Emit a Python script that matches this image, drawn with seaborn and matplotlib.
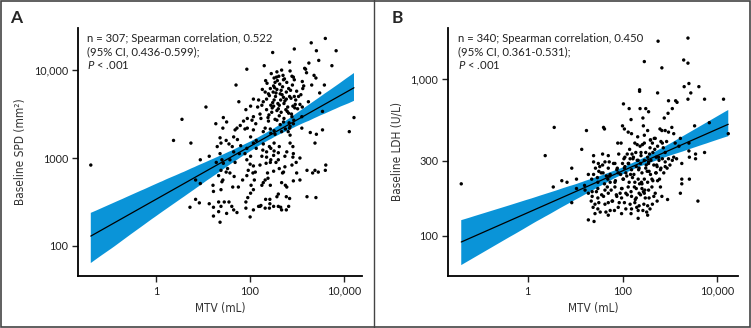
import numpy as np
import pandas as pd
import matplotlib
matplotlib.use('Agg')
import matplotlib.pyplot as plt
import seaborn as sns
from matplotlib.lines import Line2D
from matplotlib.patches import Rectangle

# ---- data (log10 values) ----
# Panel A: MTV (mL) vs baseline SPD (mm2)
log_mtv_a = [
    3.30, 3.60, 2.94, 3.41, 3.83, 2.48, 1.93, 3.25, 3.46, 2.84,
    3.16, 3.18, 3.74, 2.30, 2.67, 2.57, 2.89, 2.92, 2.94, 3.36,
    3.40, 3.20, 3.11, 2.51, 2.61, 2.71, 2.53, 3.31, 3.12, 3.58,
    1.70, 2.50, 2.43, 2.57, 2.66, 2.32, 2.86, 2.77, 2.64, 2.39,
    2.54, 2.71, 2.84, 2.51, 2.65, 2.77, 2.94, 2.35, 2.28, 2.50,
    2.62, 2.72, 2.91, 3.06, 3.01, 2.18, 2.07, 2.16, 2.25, 1.76,
    1.91, 2.01, 2.35, 2.46, 2.57, 2.82, 3.11, 3.54, 2.89, 3.10,
    1.06, 0.55, 2.07, 1.94, 2.04, 1.86, 2.12, 2.23, 2.39, 2.57,
    2.71, 2.85, 2.92, 3.10, 3.54, 4.21, 1.79, 1.72, 1.94, 2.07,
    2.32, 2.43, 2.44, 2.53, 2.67, 2.85, 2.75, 2.84, 3.28, 4.11,
    3.41, 1.43, 1.50, 1.27, 1.42, 1.68, 1.89, 2.28, 2.51, 1.36,
    1.49, 1.65, 1.73, 2.01, 2.13, 2.07, 2.28, 2.41, 2.51, 2.62,
    2.85, 2.91, 3.38, 1.38, 1.30, 1.55, 1.62, 1.80, 1.93, 1.65,
    1.77, 1.89, 2.13, 2.27, 2.35, 2.44, 2.51, 2.60, 2.78, 2.92,
    1.13, 0.94, 1.36, 1.40, 1.28, 1.43, 1.57, 1.68, 1.93, 2.01,
    2.25, 2.35, 2.44, 2.50, 2.60, 2.74, 2.91, 3.06, 3.38, 3.61,
    2.00, 2.21, 2.34, 2.43, 2.55, 2.89, 2.98, 1.96, 2.07, 2.11,
    2.62, 2.74, 2.99, 3.21, 3.45, 3.60, 1.38, 1.52, 1.49, 1.57,
    1.33, 1.66, 1.93, 1.84, 2.09, 2.06, 2.37, 2.50, 2.69, 2.71,
    2.38, 2.28, 2.32, 2.43, 2.25, 2.75, 2.67, 2.78, 2.92, 1.42,
    1.40, 0.94, 0.84, 1.21, 1.38, 1.75, 2.02, 1.22, 1.63, 2.07,
    2.01, 1.95, 2.33, 2.57, 2.42, 2.77, 2.50, 2.60, 2.65, 0.92,
    1.13, 1.33, 1.45, 1.55, 1.61, 1.38, 1.50, 1.65, 1.91, 2.21,
    2.32, 2.82, 2.60, 2.84, 3.06, 3.33, 0.72, 0.84, 1.22, 1.33,
    1.72, 1.91, 2.07, 2.23, 2.42, 2.77, 3.21, 1.22, 2.00, 2.18,
    1.36, 2.41, 2.67, -1.39, 0.37, 0.74, 3.40,
    # overlapping points in the dense upper cluster
    2.36, 2.41, 2.45, 2.48, 2.52, 2.55, 2.58, 2.60, 2.63, 2.68,
    2.70, 2.74, 2.78, 2.80, 2.82, 2.87, 2.90, 2.96, 2.99, 3.03,
    2.40, 2.47, 2.53, 2.59, 2.66, 2.72, 2.76, 2.83, 2.88, 2.93,
    2.26, 2.33, 2.44, 2.56, 2.62, 2.69, 2.79, 2.85, 2.97, 3.08,
    2.21, 2.38, 2.49, 2.64, 2.73, 2.81, 2.95, 3.14, 3.24, 3.48,
]
log_spd_a = [
    4.31, 4.36, 4.24, 4.22, 4.22, 4.20, 4.01, 4.08, 4.11, 4.09,
    4.02, 4.01, 4.05, 4.05, 4.00, 3.98, 3.93, 3.92, 3.89, 3.94,
    3.91, 3.97, 3.87, 3.91, 3.93, 3.89, 3.86, 3.83, 3.79, 3.83,
    3.83, 3.82, 3.79, 3.78, 3.77, 3.75, 3.77, 3.75, 3.73, 3.73,
    3.70, 3.69, 3.70, 3.66, 3.66, 3.67, 3.70, 3.67, 3.64, 3.59,
    3.60, 3.62, 3.59, 3.61, 3.56, 3.66, 3.67, 3.58, 3.60, 3.64,
    3.55, 3.59, 3.55, 3.52, 3.54, 3.51, 3.58, 3.53, 3.47, 3.47,
    3.58, 3.44, 3.47, 3.45, 3.43, 3.42, 3.39, 3.45, 3.42, 3.43,
    3.41, 3.36, 3.39, 3.34, 3.32, 3.46, 3.37, 3.34, 3.34, 3.32,
    3.34, 3.33, 3.28, 3.27, 3.30, 3.26, 3.33, 3.34, 3.29, 3.30,
    3.27, 3.46, 3.41, 3.39, 3.34, 3.32, 3.33, 3.30, 3.31, 3.23,
    3.20, 3.24, 3.21, 3.24, 3.20, 3.17, 3.16, 3.13, 3.17, 3.13,
    3.17, 3.13, 3.17, 3.17, 3.13, 3.16, 3.13, 3.14, 3.11, 3.07,
    3.05, 3.05, 3.11, 3.09, 3.07, 3.11, 3.08, 3.06, 3.07, 3.05,
    3.02, 2.98, 3.05, 2.98, 2.95, 2.94, 2.98, 2.95, 2.98, 3.02,
    3.02, 3.01, 2.98, 3.03, 2.98, 3.02, 3.01, 3.00, 2.86, 2.92,
    2.93, 2.92, 2.94, 2.95, 2.95, 2.92, 2.95, 2.86, 2.91, 2.84,
    2.88, 2.90, 2.83, 2.86, 2.84, 2.86, 2.86, 2.88, 2.84, 2.83,
    2.80, 2.79, 2.80, 2.75, 2.75, 2.83, 2.83, 2.85, 2.83, 2.84,
    2.77, 2.72, 2.75, 2.69, 2.69, 2.69, 2.72, 2.67, 2.74, 2.75,
    2.73, 2.71, 2.75, 2.69, 2.64, 2.67, 2.69, 2.62, 2.67, 2.64,
    2.60, 2.55, 2.53, 2.56, 2.53, 2.56, 2.45, 2.45, 2.44, 2.49,
    2.48, 2.50, 2.50, 2.50, 2.45, 2.45, 2.37, 2.41, 2.50, 2.45,
    2.43, 2.45, 2.59, 2.54, 2.75, 2.83, 2.44, 2.53, 2.44, 2.39,
    2.38, 2.43, 2.41, 2.46, 2.48, 2.41, 2.56, 2.34, 2.33, 2.45,
    2.27, 2.43, 2.41, 2.92, 3.20, 3.17, 2.55,
    3.85, 3.71, 3.96, 3.63, 3.80, 3.74, 3.88, 3.56, 3.84, 3.72,
    3.94, 3.65, 3.86, 3.58, 3.79, 3.68, 3.83, 3.61, 3.76, 3.70,
    3.49, 3.57, 3.44, 3.62, 3.52, 3.45, 3.55, 3.40, 3.50, 3.43,
    3.78, 3.88, 3.60, 3.92, 3.48, 3.81, 3.53, 3.99, 3.66, 3.72,
    3.50, 3.46, 3.75, 3.38, 3.90, 3.30, 3.57, 3.82, 3.64, 3.74,
]

# Panel B: MTV (mL) vs baseline LDH (U/L)
log_mtv_b = [
    2.75, 3.38, 2.46, 3.29, 3.38, 2.83, 3.40, 3.30, 3.61, 2.36,
    2.36, 2.74, 3.44, 3.38, 3.73, 4.13, 2.97, 3.12, 3.15, 2.02,
    2.14, 2.37, 2.49, 2.55, 3.05, 2.96, 2.18, 2.43, 2.88, 3.83,
    3.52, 0.56, 1.24, 1.60, 1.62, 2.00, 2.04, 2.12, 2.19, 2.44,
    2.53, 2.79, 2.83, 2.90, 2.97, 3.04, 3.08, 4.23, 2.32, 2.46,
    2.59, 2.69, 2.81, 2.84, 3.22, 1.90, 1.97, 2.26, 2.31, 2.37,
    2.46, 2.58, 2.63, 2.74, 3.11, 3.19, 3.40, 1.14, 2.10, 2.28,
    2.39, 2.49, 2.53, 2.64, 2.71, 2.90, 2.97, 3.08, 3.40, 3.54,
    3.73, 0.37, 1.39, 1.58, 1.70, 2.05, 2.16, 2.23, 2.33, 2.46,
    2.60, 2.77, 2.84, 2.90, 3.05, 3.14, 3.41, 1.39, 1.49, 1.63,
    1.84, 2.00, 2.12, 2.38, 2.55, 2.66, 2.73, 2.90, 3.00, 3.25,
    3.54, 0.93, 1.43, 1.70, 1.88, 2.04, 2.19, 2.35, 2.49, 2.56,
    2.80, 2.94, 1.28, 1.39, 1.50, 1.59, 1.74, 1.91, 2.07, 2.24,
    2.41, 2.59, 2.70, 2.87, 0.72, 0.83, 1.03, 1.20, 1.35, 1.48,
    1.62, 1.69, 1.74, 1.84, 2.02, 2.14, 2.26, 2.33, 2.41, 2.53,
    2.62, 2.74, 3.25, 0.54, -1.40, 3.25, 3.41, 1.03, 1.21, 1.36,
    1.48, 1.63, 1.84, 1.98, 2.12, 2.18, 2.29, 2.35, 2.41, 2.46,
    2.55, 2.69, 2.80, 3.22, 1.28, 1.36, 1.48, 1.56, 1.70, 1.88,
    1.98, 2.07, 2.19, 2.29, 2.38, 2.48, 2.56, 2.66, 2.83, 2.95,
    3.59, 0.93, 1.34, 1.42, 1.50, 1.70, 1.79, 1.93, 2.04, 2.16,
    2.26, 2.35, 2.45, 2.53, 2.63, 2.73, 1.38, 1.48, 1.53, 1.65,
    1.74, 1.83, 1.91, 2.07, 2.19, 2.30, 2.33, 2.43, 2.51, 2.58,
    1.42, 1.70, 1.98, 2.18, 2.53, 2.33, 1.28, 1.40,
    # overlapping points in the dense cluster
    1.45, 1.52, 1.60, 1.66, 1.72, 1.78, 1.85, 1.92, 1.99, 2.05,
    2.10, 2.15, 2.21, 2.27, 2.31, 2.36, 2.42, 2.47, 2.52, 2.57,
    2.62, 2.67, 2.72, 2.78, 2.86, 1.55, 1.68, 1.81, 1.95, 2.09,
    2.22, 2.34, 2.46, 2.59, 2.71, 1.47, 1.63, 1.76, 1.89, 2.01,
    2.13, 2.25, 2.39, 2.50, 2.64, 2.76, 1.58, 1.73, 1.87, 2.03,
    2.17, 2.29, 2.44, 2.55, 2.68, 2.81, 2.93, 1.96, 2.20, 2.40,
]
log_ldh_b = [
    3.24, 3.26, 3.11, 3.12, 3.10, 3.07, 2.97, 2.95, 2.95, 2.93,
    2.92, 2.91, 2.91, 2.87, 2.87, 2.87, 2.86, 2.86, 2.85, 2.84,
    2.81, 2.81, 2.81, 2.79, 2.81, 2.78, 2.74, 2.75, 2.75, 2.72,
    2.70, 2.69, 2.67, 2.69, 2.68, 2.70, 2.68, 2.66, 2.65, 2.70,
    2.67, 2.68, 2.67, 2.67, 2.66, 2.69, 2.65, 2.65, 2.63, 2.64,
    2.61, 2.62, 2.60, 2.59, 2.62, 2.59, 2.59, 2.59, 2.58, 2.57,
    2.59, 2.56, 2.59, 2.57, 2.59, 2.57, 2.59, 2.55, 2.52, 2.53,
    2.51, 2.53, 2.50, 2.53, 2.50, 2.53, 2.49, 2.50, 2.54, 2.52,
    2.53, 2.51, 2.51, 2.52, 2.51, 2.50, 2.49, 2.50, 2.48, 2.48,
    2.48, 2.48, 2.49, 2.47, 2.48, 2.49, 2.50, 2.47, 2.46, 2.47,
    2.46, 2.46, 2.46, 2.46, 2.46, 2.45, 2.44, 2.44, 2.45, 2.46,
    2.49, 2.43, 2.43, 2.43, 2.42, 2.43, 2.42, 2.43, 2.43, 2.41,
    2.42, 2.43, 2.39, 2.39, 2.41, 2.40, 2.39, 2.40, 2.40, 2.39,
    2.40, 2.39, 2.40, 2.40, 2.35, 2.34, 2.36, 2.32, 2.36, 2.34,
    2.33, 2.36, 2.34, 2.34, 2.36, 2.34, 2.34, 2.36, 2.33, 2.34,
    2.36, 2.35, 2.36, 2.31, 2.33, 2.33, 2.36, 2.30, 2.29, 2.28,
    2.30, 2.29, 2.31, 2.30, 2.31, 2.28, 2.30, 2.27, 2.30, 2.27,
    2.29, 2.27, 2.31, 2.27, 2.27, 2.25, 2.24, 2.26, 2.27, 2.25,
    2.24, 2.27, 2.25, 2.24, 2.26, 2.24, 2.24, 2.25, 2.25, 2.23,
    2.22, 2.21, 2.22, 2.20, 2.21, 2.21, 2.22, 2.21, 2.21, 2.20,
    2.21, 2.19, 2.20, 2.19, 2.20, 2.22, 2.18, 2.17, 2.15, 2.15,
    2.16, 2.16, 2.18, 2.17, 2.17, 2.18, 2.16, 2.16, 2.15, 2.17,
    2.14, 2.13, 2.14, 2.14, 2.13, 2.11, 2.10, 2.09,
    2.28, 2.44, 2.25, 2.38, 2.47, 2.22, 2.35, 2.52, 2.30, 2.44,
    2.26, 2.55, 2.37, 2.23, 2.48, 2.33, 2.58, 2.29, 2.41, 2.52,
    2.31, 2.62, 2.45, 2.36, 2.56, 2.40, 2.31, 2.46, 2.27, 2.38,
    2.49, 2.42, 2.36, 2.61, 2.40, 2.37, 2.20, 2.29, 2.43, 2.36,
    2.46, 2.31, 2.53, 2.45, 2.35, 2.50, 2.45, 2.38, 2.26, 2.49,
    2.39, 2.44, 2.28, 2.47, 2.55, 2.43, 2.60, 2.39, 2.52, 2.34,
]

x_ticks = [0, 2, 4]
x_ticklabels = ['1', '100', '10,000']
y_ticks_a = [2, 3, 4]
y_ticklabels_a = ['100', '1000', '10,000']
y_ticks_b = [2, np.log10(300), 3]
y_ticklabels_b = ['100', '300', '1,000']

note_a = 'n = 307; Spearman correlation, 0.522\n(95% CI, 0.436-0.599);\n$P$ < .001'
note_b = 'n = 340; Spearman correlation, 0.450\n(95% CI, 0.361-0.531);\n$P$ < .001'

# ---- style ----
sns.set_theme(style='ticks')
plt.rcParams['font.family'] = ['Lato', 'DejaVu Sans']
plt.rcParams['mathtext.fontset'] = 'custom'
plt.rcParams['mathtext.rm'] = 'Lato'
plt.rcParams['mathtext.it'] = 'Lato:italic'

BAND = '#0a94d8'


def draw_panel(ax, xs, ys, yticks, yticklabels, ylabel, note, xlim, ylim):
    df = pd.DataFrame({'x': xs, 'y': ys})
    # confidence band
    sns.regplot(data=df, x='x', y='y', ax=ax, scatter=False, ci=95, seed=0,
                color=BAND, line_kws={'lw': 0})
    for coll in ax.collections:
        coll.set_alpha(1)
        coll.set_facecolor(BAND)
        coll.set_edgecolor('none')
    # fitted line
    sns.regplot(data=df, x='x', y='y', ax=ax, scatter=False, ci=None,
                color='black', line_kws={'lw': 0.9, 'zorder': 3})
    sns.scatterplot(data=df, x='x', y='y', ax=ax, s=6, color='black',
                    edgecolor='none', zorder=4, legend=False)

    ax.set_xlim(*xlim)
    ax.set_ylim(*ylim)
    ax.set_xticks(x_ticks)
    ax.set_xticklabels(x_ticklabels)
    ax.set_yticks(yticks)
    ax.set_yticklabels(yticklabels)
    sns.despine(ax=ax)
    for s in ['left', 'bottom']:
        ax.spines[s].set_linewidth(1.3)
        ax.spines[s].set_color('black')
    ax.tick_params(length=4, width=1, labelsize=7.8, pad=3, colors='#222222')
    ax.set_xlabel('MTV (mL)', fontsize=8.5, family='DejaVu Sans',
                  fontstretch='condensed', color='#333333', labelpad=4)
    ax.set_ylabel(ylabel, fontsize=8.5, family='DejaVu Sans',
                  fontstretch='condensed', color='#333333', labelpad=5)
    ax.text(0.033, 0.978, note, transform=ax.transAxes, va='top', ha='left',
            fontsize=8.2, linespacing=1.2, color='#222222')


fig = plt.figure(figsize=(7.51, 3.28), dpi=100)
ax_a = fig.add_axes([0.104, 0.159, 0.378, 0.756])
ax_b = fig.add_axes([0.5965, 0.159, 0.3865, 0.756])

draw_panel(ax_a, log_mtv_a, log_spd_a, y_ticks_a, y_ticklabels_a,
           'Baseline SPD (mm²)', note_a, (-1.66, 4.38), (1.66, 4.48))
draw_panel(ax_b, log_mtv_b, log_ldh_b, y_ticks_b, y_ticklabels_b,
           'Baseline LDH (U/L)', note_b, (-1.68, 4.44), (1.743, 3.325))

fig.text(10 / 751, 1 - 18 / 328, 'A', fontsize=12.5, fontweight='bold', va='center')
fig.text(392 / 751, 1 - 18 / 328, 'B', fontsize=12.5, fontweight='bold', va='center')

# frame around the figure and the panel divider
fig.add_artist(Rectangle((0.001, 0.002), 0.998, 0.996, transform=fig.transFigure,
                         fill=False, edgecolor='#444444', lw=1.2))
fig.add_artist(Line2D([374 / 751, 374 / 751], [0, 1], transform=fig.transFigure,
                      color='#444444', lw=1.0))

fig.savefig('out.png', dpi=100)
